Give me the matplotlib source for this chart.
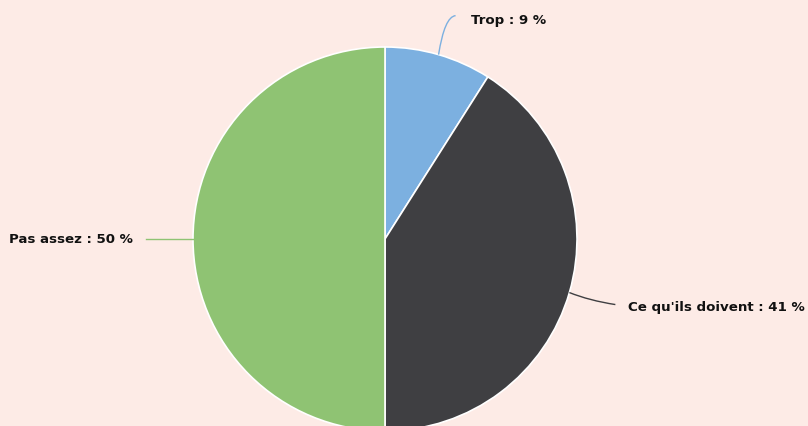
import numpy as np
import matplotlib
matplotlib.use("Agg")
import matplotlib.pyplot as plt
from matplotlib.path import Path
from matplotlib.patches import PathPatch

categories = ["Trop", "Ce qu'ils doivent", "Pas assez"]
values = [9, 41, 50]
colors = ["#7cb0e0", "#3f3f42", "#8fc373"]

W, H = 808, 427
fig = plt.figure(figsize=(W / 100, H / 100), dpi=100)
fig.patch.set_facecolor("#fdebe6")
ax = fig.add_axes([0, 0, 1, 1])
ax.set_facecolor("#fdebe6")

cx, cy, r = 385, H - 240, 192
wedges, _ = ax.pie(values, colors=colors, startangle=90, counterclock=False,
                   center=(cx, cy), radius=r, frame=True,
                   wedgeprops=dict(edgecolor="white", linewidth=1.2))
ax.set_xlim(0, W)
ax.set_ylim(0, H)
ax.set_aspect("equal")
ax.axis("off")

font = dict(fontsize=9.6, fontweight="bold", color="#111111", family="DejaVu Sans")

for w, cat, val, col in zip(wedges, categories, values, colors):
    mid = np.deg2rad((w.theta1 + w.theta2) / 2)
    ex, ey = cx + r * np.cos(mid), cy + r * np.sin(mid)
    label = f"{cat} : {val} %"
    if np.cos(mid) > 0.5:  # right
        p1 = (ex + 46, ey - 12)
        verts = [(ex, ey), (ex + 20, ey - 8), p1]
        codes = [Path.MOVETO, Path.CURVE3, Path.CURVE3]
        ax.add_patch(PathPatch(Path(verts, codes), fill=False, edgecolor=col, lw=1))
        ax.text(p1[0] + 13, p1[1] - 2, label, ha="left", va="center", **font)
    elif np.cos(mid) < -0.5:  # left
        p1 = (ex - 47, ey)
        ax.plot([ex, p1[0]], [ey, p1[1]], color=col, lw=1)
        ax.text(p1[0] - 13, p1[1], label, ha="right", va="center", **font)
    else:  # top
        p1 = (ex + 17, ey + 39)
        verts = [(ex, ey), (ex + 6, ey + 38), p1]
        codes = [Path.MOVETO, Path.CURVE3, Path.CURVE3]
        ax.add_patch(PathPatch(Path(verts, codes), fill=False, edgecolor=col, lw=1))
        ax.text(p1[0] + 15, p1[1] - 4, label, ha="left", va="center", **font)

fig.savefig("out.png", dpi=100, facecolor=fig.get_facecolor())
